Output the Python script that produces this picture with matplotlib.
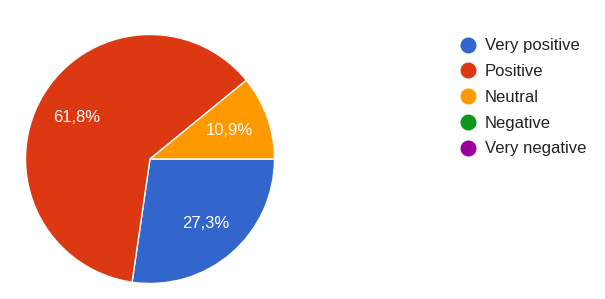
import matplotlib
matplotlib.use("Agg")
import matplotlib.pyplot as plt
from matplotlib.lines import Line2D

plt.rcParams['font.family'] = ['Liberation Sans', 'DejaVu Sans']

categories = ["Very positive", "Positive", "Neutral", "Negative", "Very negative"]
shares = [27.3, 61.8, 10.9, 0.0, 0.0]
pct_labels = ["27,3%", "61,8%", "10,9%", "", ""]
colors = ["#3366CC", "#DC3912", "#FF9900", "#109618", "#990099"]

W, H = 605, 299
fig = plt.figure(figsize=(W / 100, H / 100), dpi=100)

# pie centred at (150, 159) px with radius ~124.5 px
cx, cy, r = 150, 159, 124.5
ax = fig.add_axes([(cx - r) / W, (H - cy - r) / H, 2 * r / W, 2 * r / H])

nz = [i for i, v in enumerate(shares) if v > 0]
wedges, texts = ax.pie(
    [shares[i] for i in nz],
    colors=[colors[i] for i in nz],
    labels=[pct_labels[i] for i in nz],
    labeldistance=0.68,
    startangle=0,
    counterclock=False,
    radius=1,
    wedgeprops=dict(edgecolor="white", linewidth=1.0),
    textprops=dict(color="white", fontsize=12),
)
for t in texts:
    t.set_horizontalalignment("center")
    t.set_verticalalignment("center")
ax.set_xlim(-1, 1)
ax.set_ylim(-1, 1)
ax.axis("off")

handles = [
    Line2D([], [], linestyle="none", marker="o", markersize=10.5,
           markerfacecolor=c, markeredgecolor=c)
    for c in colors
]
fig.legend(
    handles, categories,
    loc="upper left",
    bbox_to_anchor=(459.6 / W, (H - 38.4) / H),
    frameon=False,
    borderaxespad=0,
    borderpad=0,
    handlelength=1.0,
    handletextpad=0.52,
    labelspacing=0.645,
    fontsize=12,
    labelcolor="#222222",
)

fig.savefig("out.png", dpi=100, facecolor="white")
